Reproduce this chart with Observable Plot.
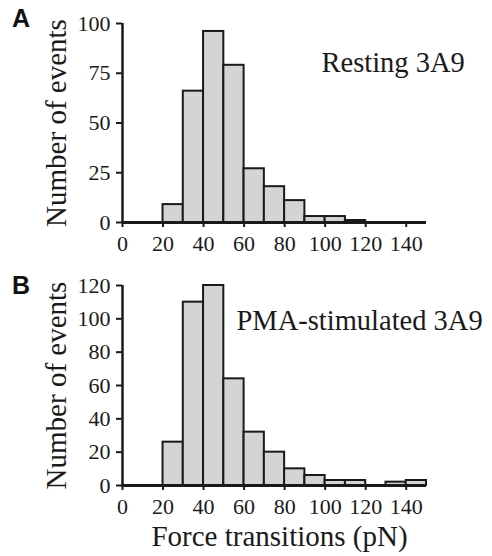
<!DOCTYPE html>
<html><head><meta charset="utf-8">
<script src="https://cdn.jsdelivr.net/npm/d3@7"></script>
<script src="https://cdn.jsdelivr.net/npm/@observablehq/plot@0.6"></script>
<style>
body{margin:0;background:#fff;}
#chart{position:relative;width:492px;height:556px;background:#fff;}
#chart svg{display:block;}
.letter{position:absolute;left:12px;font-family:'Liberation Sans',Arial,sans-serif;font-weight:bold;font-size:25px;line-height:25px;color:#111;}
</style></head><body><div id="chart"></div>
<script>
// Data
const binStarts = [0,10,20,30,40,50,60,70,80,90,100,110,120,130,140];
const binWidth = 10;
const countsResting = [0,0,9,66,96,79,27,18,11,3,3,1,0,0,0];
const countsPMA = [0,0,26,110,120,64,32,20,10,6,3,3,0,2,3];
const xTicks = [0,20,40,60,80,100,120,140];
const yTicksA = [0,25,50,75,100];
const yTicksB = [0,20,40,60,80,100,120];
const panelLetters = ["A","B"];
const panelTitles = ["Resting 3A9","PMA-stimulated 3A9"];
const yLabel = "Number of events";
const xLabel = "Force transitions (pN)";

const serif = "'Liberation Serif', 'Times New Roman', serif";

function panel({counts, yTicks, yMax, title, height, marginTop, marginBottom, titleDx, titleDy, showXLabel}) {
  const rows = binStarts.map((s, i) => ({x1: s, x2: s + binWidth, count: counts[i]}));
  const marks = [
    Plot.rectY(rows, {x1: "x1", x2: "x2", y: "count", fill: "#d3d4d6", stroke: "#1a1a1a", strokeWidth: 2}),
    Plot.ruleX([0], {stroke: "#1a1a1a", strokeWidth: 2.5}),
    Plot.ruleY([0], {stroke: "#1a1a1a", strokeWidth: 3}),
    Plot.axisX({ticks: xTicks, tickSize: 5, tickPadding: 8, strokeWidth: 2, label: null, fontSize: 22, fontFamily: serif, tickFormat: d => String(d)}),
    Plot.axisY({ticks: yTicks, tickSize: 6, tickPadding: 6, strokeWidth: 2, label: null, fontSize: 22, fontFamily: serif, tickFormat: d => String(d)}),
    Plot.text([yLabel], {frameAnchor: "left", rotate: -90, dx: -66, lineAnchor: "middle", textAnchor: "middle", fontSize: 29, fontFamily: serif, fill: "#1a1a1a"}),
    Plot.text([title], {frameAnchor: "top-left", dx: titleDx, dy: titleDy, lineAnchor: "bottom", textAnchor: "start", fontSize: 28.5, fontFamily: serif, fill: "#1a1a1a"})
  ];
  if (showXLabel) {
    marks.push(Plot.text([xLabel], {frameAnchor: "bottom", dx: 5, dy: 60, lineAnchor: "bottom", textAnchor: "middle", fontSize: 29, fontFamily: serif, fill: "#1a1a1a"}));
  }
  return Plot.plot({
    width: 492,
    height,
    marginLeft: 122,
    marginRight: 66,
    marginTop,
    marginBottom,
    style: {fontFamily: serif, fontSize: "22px", color: "#1a1a1a", background: "#fff", overflow: "visible"},
    x: {domain: [0, 150]},
    y: {domain: [0, yMax]},
    marks
  });
}

const chart = document.getElementById("chart");
chart.append(panel({counts: countsResting, yTicks: yTicksA, yMax: 100, title: panelTitles[0],
  height: 260, marginTop: 23, marginBottom: 38, titleDx: 199, titleDy: 48, showXLabel: false}));
chart.append(panel({counts: countsPMA, yTicks: yTicksB, yMax: 120, title: panelTitles[1],
  height: 296, marginTop: 25, marginBottom: 71, titleDx: 114, titleDy: 44, showXLabel: true}));

const letterTops = [6, 273];
panelLetters.forEach((l, i) => {
  const d = document.createElement("div");
  d.className = "letter";
  d.style.top = letterTops[i] + "px";
  d.textContent = l;
  chart.append(d);
});
</script>
</body></html>
